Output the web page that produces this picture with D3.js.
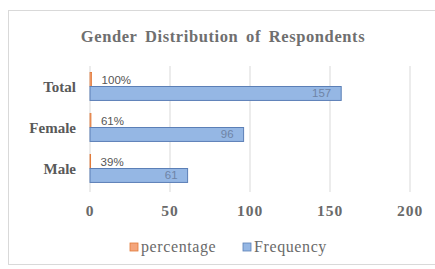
<!DOCTYPE html>
<html>
<head>
<meta charset="utf-8">
<script src="https://cdn.jsdelivr.net/npm/d3@7"></script>
<style>
  body { margin: 0; background: #fff; }
  svg { display: block; }
</style>
</head>
<body>
<svg id="chart"></svg>
<script>
// Data
var categories = ["Total", "Female", "Male"];
var series = ["percentage", "Frequency"];
var percentage = [1.00, 0.61, 0.39];
var frequency = [157, 96, 61];
var percentLabels = ["100%", "61%", "39%"];
var xTicks = [0, 50, 100, 150, 200];

var width = 435;
var height = 269;
var colors = { percentage: "#f4a57c", Frequency: "#95b7e4" };
var strokes = { percentage: "#e07a3a", Frequency: "#5b7fb6" };
var serif = "'Liberation Serif', 'Times New Roman', serif";

var svg = d3.select("#chart")
    .attr("width", width)
    .attr("height", height);

// chart frame
svg.append("rect")
    .attr("x", 8.5).attr("y", 10.5)
    .attr("width", 440).attr("height", 254)
    .attr("fill", "#fff")
    .attr("stroke", "#d9d9d9");

// Scales
var x = d3.scaleLinear().domain([0, 200]).range([90, 410]);
var y = d3.scaleBand().domain(categories).range([66, 189])
    .paddingInner(0.32).paddingOuter(0.16);
var ySub = d3.scaleBand().domain(series).range([0, y.bandwidth()]);

// Title
svg.append("text")
    .attr("x", 223).attr("y", 42)
    .attr("text-anchor", "middle")
    .style("font-family", serif)
    .style("font-weight", "bold")
    .style("font-size", "16.5px")
    .style("letter-spacing", "0.6px")
    .style("word-spacing", "3px")
    .style("fill", "#6f6f6f")
    .text("Gender Distribution of Respondents");

// Gridlines
svg.append("g").selectAll("line")
    .data(xTicks)
    .enter().append("line")
    .attr("x1", function (d) { return x(d); })
    .attr("x2", function (d) { return x(d); })
    .attr("y1", 66).attr("y2", 192)
    .attr("stroke", "#d9d9d9")
    .attr("stroke-width", 1);

// X tick labels
svg.append("g").selectAll("text")
    .data(xTicks)
    .enter().append("text")
    .attr("x", function (d) { return x(d); })
    .attr("y", 216)
    .attr("text-anchor", "middle")
    .style("font-family", serif)
    .style("font-weight", "bold")
    .style("font-size", "15.5px")
    .style("letter-spacing", "1px")
    .style("fill", "#6a6a6a")
    .text(function (d) { return d; });

// Category labels
svg.append("g").selectAll("text")
    .data(categories)
    .enter().append("text")
    .attr("x", 76)
    .attr("y", function (d) { return y(d) + y.bandwidth() / 2 + 5; })
    .attr("text-anchor", "end")
    .style("font-family", serif)
    .style("font-weight", "bold")
    .style("font-size", "15px")
    .style("fill", "#595959")
    .text(function (d) { return d; });

// Bars
var groups = svg.append("g").selectAll("g")
    .data(categories)
    .enter().append("g")
    .attr("transform", function (d) { return "translate(0," + y(d) + ")"; });

groups.append("rect")
    .attr("x", x(0))
    .attr("y", ySub("percentage"))
    .attr("width", function (d, i) { return x(percentage[i]) - x(0); })
    .attr("height", ySub.bandwidth())
    .attr("fill", colors.percentage)
    .attr("stroke", strokes.percentage)
    .attr("stroke-width", 0.8);

groups.append("rect")
    .attr("x", x(0))
    .attr("y", ySub("Frequency"))
    .attr("width", function (d, i) { return x(frequency[i]) - x(0); })
    .attr("height", ySub.bandwidth())
    .attr("fill", colors.Frequency)
    .attr("stroke", strokes.Frequency)
    .attr("stroke-width", 1);

// Data labels
groups.append("text")
    .attr("x", function (d, i) { return x(percentage[i]) + 10; })
    .attr("y", ySub("percentage") + ySub.bandwidth() / 2 + 4)
    .style("font-family", "'Liberation Sans', Arial, sans-serif")
    .style("font-size", "11.5px")
    .style("fill", "#555")
    .text(function (d, i) { return percentLabels[i]; });

groups.append("text")
    .attr("x", function (d, i) { return x(frequency[i]) - 10; })
    .attr("y", ySub("Frequency") + ySub.bandwidth() / 2 + 4)
    .attr("text-anchor", "end")
    .style("font-family", "'Liberation Sans', Arial, sans-serif")
    .style("font-size", "11.5px")
    .style("fill", "#6f84a6")
    .text(function (d, i) { return frequency[i]; });

// Legend
var legendX = [130, 243];
var legend = svg.append("g").selectAll("g")
    .data(series)
    .enter().append("g")
    .attr("transform", function (d, i) { return "translate(" + legendX[i] + ",243)"; });

legend.append("rect")
    .attr("width", 8).attr("height", 8)
    .attr("fill", function (d) { return colors[d]; })
    .attr("stroke", function (d) { return strokes[d]; })
    .attr("stroke-width", 0.8);

legend.append("text")
    .attr("x", 11).attr("y", 9)
    .style("font-family", serif)
    .style("font-size", "16px")
    .style("letter-spacing", "0.6px")
    .style("fill", "#6a6a6a")
    .text(function (d) { return d; });
</script>
</body>
</html>
